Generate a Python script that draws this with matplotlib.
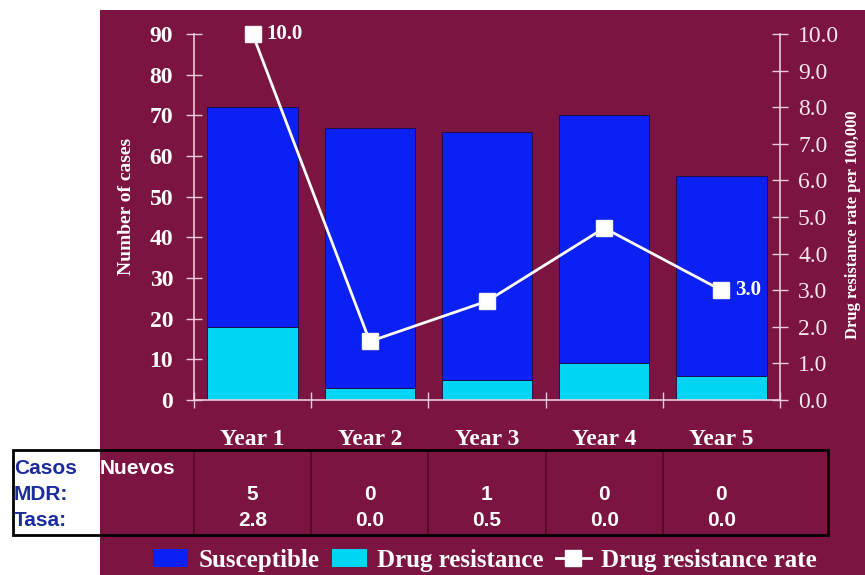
import numpy as np
import matplotlib
matplotlib.use('Agg')
import matplotlib.pyplot as plt
from matplotlib.patches import Rectangle, Patch
from matplotlib.lines import Line2D
from matplotlib import transforms

# 数据
years = ['Year 1', 'Year 2', 'Year 3', 'Year 4', 'Year 5']
susceptible = [54, 64, 61, 61, 49]
drug_resistance = [18, 3, 5, 9, 6]
resistance_rate = [10.0, 1.6, 2.7, 4.7, 3.0]
rate_labels = {0: '10.0', 4: '3.0'}
mdr_cases = ['5', '0', '1', '0', '0']
mdr_rate = ['2.8', '0.0', '0.5', '0.0', '0.0']

MAROON = '#7B1441'
BLUE = '#0B20F2'
CYAN = '#00D6F4'
AXIS_COLOR = '#EBCBD8'
TEXT_BLUE = '#1C2C9E'

serif = ['Liberation Serif', 'DejaVu Serif']
sans = ['Liberation Sans', 'DejaVu Sans']

fig = plt.figure(figsize=(8.65, 5.75), dpi=100)
fig.patch.set_facecolor('white')

# 背景色块
W, H = 865, 575
fig.patches.append(Rectangle((100 / W, 0), 1 - 100 / W, (H - 10) / H,
                             transform=fig.transFigure, facecolor=MAROON,
                             edgecolor='none', zorder=-5))

ax = fig.add_axes([194 / W, (H - 400) / H, (780 - 194) / W, (400 - 34) / H])
ax.set_facecolor('none')
ax.set_zorder(2)
x = np.arange(len(years))

ax.bar(x, drug_resistance, width=0.77, color=CYAN, edgecolor='#1a0a40', linewidth=0.6, zorder=2)
ax.bar(x, susceptible, width=0.77, bottom=drug_resistance, color=BLUE,
       edgecolor='#1a0a40', linewidth=0.6, zorder=2)

ax.set_xlim(-0.5, len(years) - 0.5)
ax.set_ylim(0, 90)
ax.set_yticks(np.arange(0, 91, 10))
ax.set_xticks(x)
ax.set_xticklabels(years, fontfamily=serif, fontweight='bold', fontsize=17, color='white')
ax.set_xticks(np.arange(-0.5, len(years) - 0.4, 1.0), minor=True)
ax.tick_params(axis='x', which='major', length=0, pad=21)
ax.tick_params(axis='x', which='minor', direction='inout', length=12, width=1, color=AXIS_COLOR)
ax.tick_params(axis='y', direction='inout', length=12, width=1, color=AXIS_COLOR,
               labelcolor='white', pad=9)
for lab in ax.get_yticklabels():
    lab.set_fontfamily(serif)
    lab.set_fontweight('bold')
    lab.set_fontsize(17)

ax.spines['top'].set_visible(False)
ax.spines['right'].set_visible(False)
for s in ('left', 'bottom'):
    ax.spines[s].set_color(AXIS_COLOR)
    ax.spines[s].set_linewidth(1.2)

ax.set_ylabel('Number of cases', fontfamily=serif, fontweight='bold', fontsize=14, color='white')
ax.yaxis.set_label_coords(-0.1, 0.53)

# 耐药率折线（右轴）
ax2 = ax.twinx()
ax2.set_facecolor('none')
ax2.set_zorder(3)
ax2.plot(x, resistance_rate, color='white', linewidth=2, marker='s', markersize=12,
         markerfacecolor='white', markeredgecolor='#f4f4f4', zorder=5, clip_on=False)
ax2.set_ylim(0, 10)
ax2.set_yticks(np.arange(0, 10.1, 1.0))
ax2.set_yticklabels([f'{v:.1f}' for v in np.arange(0, 10.1, 1.0)])
ax2.tick_params(axis='y', direction='inout', length=12, width=1, color=AXIS_COLOR,
                labelcolor='#F4E6EC', pad=7)
for lab in ax2.get_yticklabels():
    lab.set_fontfamily(serif)
    lab.set_fontsize(17)
for s in ('top', 'left', 'bottom'):
    ax2.spines[s].set_visible(False)
ax2.spines['right'].set_color(AXIS_COLOR)
ax2.spines['right'].set_linewidth(1.2)
ax2.set_ylabel('Drug resistance rate per 100,000', fontfamily=serif, fontweight='bold',
               fontsize=12, color='white', rotation=90)
ax2.yaxis.set_label_coords(1.111, 0.48)

for i, txt in rate_labels.items():
    ax2.annotate(txt, (x[i], resistance_rate[i]), xytext=(10, 0), textcoords='offset points',
                 ha='left', va='center', fontfamily=serif, fontweight='bold',
                 fontsize=15, color='white')

# 下方表格
tbl_left, tbl_right = 13 / W, 828 / W
tbl_top, tbl_bottom = (H - 450) / H, (H - 535) / H
fig.patches.append(Rectangle((tbl_left, tbl_bottom), tbl_right - tbl_left, tbl_top - tbl_bottom,
                             transform=fig.transFigure, facecolor='none',
                             edgecolor='black', linewidth=2, zorder=3))
blend = transforms.blended_transform_factory(ax.transData, fig.transFigure)
for xb in np.arange(-0.5, len(years) - 0.5, 1.0):
    fig.add_artist(Line2D([xb, xb], [tbl_bottom, tbl_top], transform=blend,
                          color='#4E0A28', linewidth=1.2, zorder=3))

row_y = [(H - 468) / H, (H - 495) / H, (H - 521) / H]
for label, yy in zip(['Casos', 'MDR:', 'Tasa:'], row_y):
    fig.text(14 / W, yy, label, ha='left', va='center', fontfamily=sans,
             fontweight='bold', fontsize=15, color=TEXT_BLUE)
fig.text(100 / W, row_y[0], 'Nuevos', ha='left', va='center', fontfamily=sans,
         fontweight='bold', fontsize=15, color='white')
for i in range(len(years)):
    fig.text(x[i], row_y[1], mdr_cases[i], transform=blend, ha='center', va='center',
             fontfamily=sans, fontweight='bold', fontsize=15, color='white')
    fig.text(x[i], row_y[2], mdr_rate[i], transform=blend, ha='center', va='center',
             fontfamily=sans, fontweight='bold', fontsize=15, color='white')

# 图例
handles = [Patch(facecolor=BLUE, edgecolor='none'),
           Patch(facecolor=CYAN, edgecolor='none'),
           Line2D([], [], color='white', linewidth=2, marker='s', markersize=11,
                  markerfacecolor='white')]
leg = fig.legend(handles, ['Susceptible', 'Drug resistance', 'Drug resistance rate'],
                 loc='center', bbox_to_anchor=(485 / W, (H - 560) / H), ncol=3,
                 frameon=False, handlelength=1.4, handleheight=0.7, handletextpad=0.4,
                 columnspacing=0.5, borderaxespad=0,
                 prop={'family': serif, 'weight': 'bold', 'size': 18})
for t in leg.get_texts():
    t.set_color('white')

fig.savefig('out.png', dpi=100, facecolor=fig.get_facecolor())
